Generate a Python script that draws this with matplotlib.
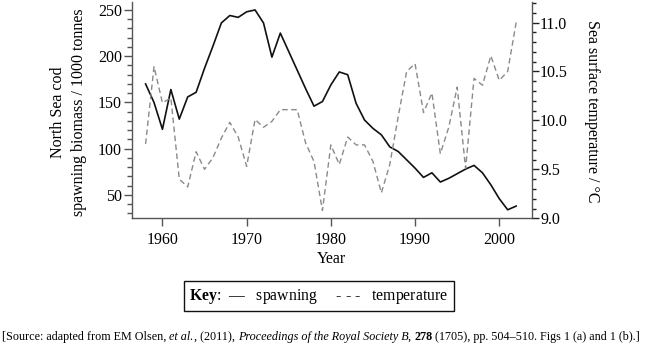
import matplotlib
matplotlib.use("Agg")
import matplotlib.pyplot as plt
from matplotlib.ticker import MultipleLocator

plt.rcParams['font.family'] = ['Liberation Serif', 'DejaVu Serif']
plt.rcParams['mathtext.fontset'] = 'custom'
plt.rcParams['mathtext.rm'] = 'Liberation Serif'
plt.rcParams['mathtext.it'] = 'Liberation Serif:italic'
plt.rcParams['mathtext.bf'] = 'Liberation Serif:bold'

years = list(range(1958, 2003))
spawning = [170, 150, 121, 164, 132, 156, 161, 187, 211, 236,
            244, 242, 248, 250, 236, 199, 225, 205, 185, 165,
            146, 151, 169, 183, 180, 149, 131, 122, 115, 102,
            97, 88, 79, 69, 74, 64, 68, 73, 78, 82,
            74, 61, 46, 34, 38]
temperature = [9.76, 10.55, 10.18, 10.23, 9.40, 9.32, 9.68, 9.50, 9.62, 9.82,
               9.98, 9.83, 9.53, 10.01, 9.93, 9.99, 10.11, 10.11, 10.11, 9.77,
               9.58, 9.08, 9.75, 9.55, 9.83, 9.75, 9.75, 9.58, 9.26, 9.55,
               10.04, 10.50, 10.58, 10.08, 10.28, 9.66, 9.93, 10.34, 9.51, 10.43,
               10.36, 10.66, 10.41, 10.50, 11.00]
xticks = [1960, 1970, 1980, 1990, 2000]
source_parts = [
    ("[Source: adapted from EM Olsen, ", 'normal', 'normal'),
    ("et al.", 'italic', 'normal'),
    (", (2011), ", 'normal', 'normal'),
    ("Proceedings of the Royal Society B", 'italic', 'normal'),
    (", ", 'normal', 'normal'),
    ("278", 'normal', 'bold'),
    (" (1705), pp. 504–510. Figs 1 (a) and 1 (b).]", 'normal', 'normal'),
]

W, H = 647, 347
fig = plt.figure(figsize=(W / 100, H / 100), dpi=100)
x0, x1, ytop, ybot = 131.7, 531.7, 2.0, 218.3
ax = fig.add_axes([x0 / W, 1 - ybot / H, (x1 - x0) / W, (ybot - ytop) / H])
ax2 = ax.twinx()

spine_c = '#555555'
fs = 11.5

ax.plot(years, spawning, color='#111111', lw=1.2, solid_joinstyle='round', zorder=3)
ax2.plot(years, temperature, color='#8a8a8a', lw=1.0, dashes=(4, 2.5))

ax.set_xlim(1956.35, 2003.85)
ax.set_ylim(24.8, 258.6)
ax2.set_ylim(9.0, 11.21)

ax.set_xticks(xticks)
ax.set_yticks([50, 100, 150, 200, 250])
ax.yaxis.set_minor_locator(MultipleLocator(10))
ax2.set_yticks([9.0, 9.5, 10.0, 10.5, 11.0])
ax2.set_yticklabels(['9.0', '9.5', '10.0', '10.5', '11.0'])
ax2.yaxis.set_minor_locator(MultipleLocator(0.1))

for a in (ax, ax2):
    a.spines['top'].set_visible(False)
    for s in a.spines.values():
        s.set_color(spine_c)
        s.set_linewidth(1.0)
ax.spines['right'].set_visible(False)
ax2.spines['left'].set_visible(False)
ax2.spines['bottom'].set_visible(False)

ax.tick_params(axis='x', direction='out', length=6, width=1, color=spine_c, pad=4, labelsize=fs)
ax.tick_params(axis='y', which='major', direction='out', length=6, width=1, color=spine_c, pad=1, labelsize=fs)
ax.tick_params(axis='y', which='minor', direction='out', length=3.5, width=1, color=spine_c)
ax2.tick_params(axis='y', which='major', direction='out', length=5, width=1, color='#222222', pad=1, labelsize=fs)
ax2.tick_params(axis='y', which='minor', direction='out', length=3, width=1, color='#222222')

ax.set_xlabel('Year', fontsize=fs, labelpad=2)
fig.text(68.5 / W, 1 - 112 / H, 'North Sea cod\nspawning biomass / 1000 tonnes',
         rotation=90, ha='center', va='center', fontsize=fs, linespacing=1.45)
fig.text(592 / W, 1 - 111 / H, 'Sea surface temperature / °C',
         rotation=270, ha='center', va='center', fontsize=fs)

fig.text(319 / W, 1 - 296 / H,
         r'$\mathbf{Key}$:  —   spawning     - - -   temperature',
         ha='center', va='center', fontsize=11.3,
         bbox=dict(boxstyle='square,pad=0.32', fc='white', ec='#111111', lw=1.0))

# source line built from styled pieces
fig.canvas.draw()
r = fig.canvas.get_renderer()


def piece_width(s, style, weight, size):
    t1 = fig.text(0, 0, '|' + s + '|', fontsize=size, fontstyle=style, fontweight=weight)
    t2 = fig.text(0, 0, '||', fontsize=size, fontstyle=style, fontweight=weight)
    w = t1.get_window_extent(r).width - t2.get_window_extent(r).width
    t1.remove()
    t2.remove()
    return w


base = 10.0
total = sum(piece_width(s, st, wt, base) for s, st, wt in source_parts)
size = base * 642.0 / total
xpos = 2.0
for s, st, wt in source_parts:
    fig.text(xpos / W, 1 - 337 / H, s, fontsize=size, fontstyle=st, fontweight=wt,
             ha='left', va='center')
    xpos += piece_width(s, st, wt, size)

fig.savefig('out.png', dpi=100)
